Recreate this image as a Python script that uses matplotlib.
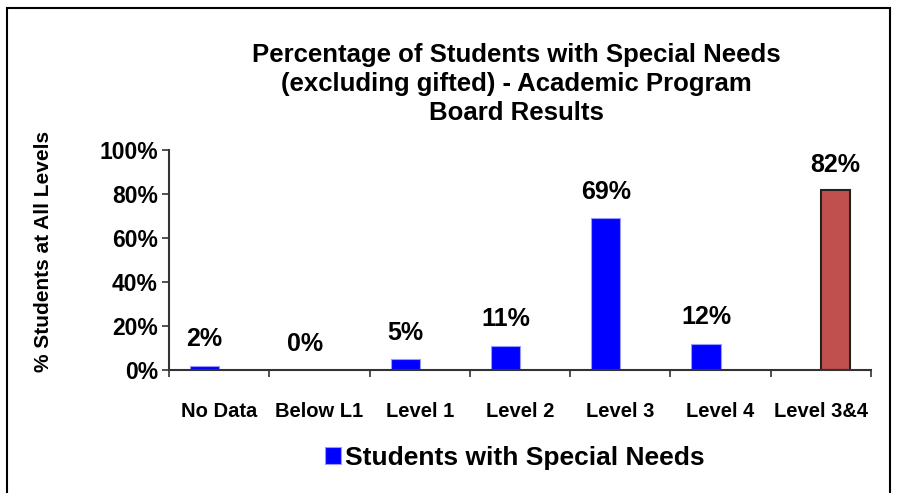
import numpy as np
import matplotlib.pyplot as plt
from matplotlib.patches import Rectangle
from matplotlib.ticker import FuncFormatter

plt.rcParams['font.family'] = ['Liberation Sans', 'DejaVu Sans']
plt.rcParams['font.weight'] = 'bold'

categories = ["No Data", "Below L1", "Level 1", "Level 2", "Level 3", "Level 4", "Level 3&4"]
special_needs = [2, 0, 5, 11, 69, 12, np.nan]
level34_total = [np.nan, np.nan, np.nan, np.nan, np.nan, np.nan, 82]
legend_label = "Students with Special Needs"
title = ("Percentage of Students with Special Needs\n"
         "(excluding gifted) - Academic Program\n"
         "Board Results")

fig = plt.figure(figsize=(8.98, 4.93), dpi=100)
ax = fig.add_axes([169/898, 1 - 370/493, 702/898, 220/493])

x = np.arange(len(categories))
w = 0.29

b1 = ax.bar(x - w/2, special_needs, w, color='#0000ff', edgecolor='#9999ff',
            linewidth=0.8, label=legend_label)
b2 = ax.bar(x + w/2, level34_total, w, color='#c0504d', edgecolor='#222222',
            linewidth=1.5)

for xi, v in zip(x - w/2, special_needs):
    if not np.isnan(v):
        ax.annotate(f"{v:.0f}%", (xi, v), xytext=(0, 19), textcoords='offset points',
                    ha='center', va='center', fontsize=18, fontweight='bold')
for xi, v in zip(x + w/2, level34_total):
    if not np.isnan(v):
        ax.annotate(f"{v:.0f}%", (xi, v), xytext=(0, 18), textcoords='offset points',
                    ha='center', va='center', fontsize=18, fontweight='bold')

ax.set_xlim(-0.5, len(categories) - 0.5)
ax.set_ylim(0, 100)
ax.set_yticks(np.arange(0, 101, 20))
ax.yaxis.set_major_formatter(FuncFormatter(lambda v, p: f"{v:.0f}%"))
ax.tick_params(axis='y', labelsize=16.5, length=5, width=1.2, pad=3, color='#333333')

ax.set_xticks(x)
ax.set_xticklabels(categories, fontsize=14.5, fontweight='bold')
ax.set_xticks(np.arange(-0.5, len(categories), 1), minor=True)
ax.tick_params(axis='x', which='major', length=0, pad=23)
ax.tick_params(axis='x', which='minor', length=5, width=1.2, color='#333333')

for s in ['top', 'right']:
    ax.spines[s].set_visible(False)
for s in ['left', 'bottom']:
    ax.spines[s].set_linewidth(1.5)
    ax.spines[s].set_color('#333333')

ax.set_ylabel("% Students at All Levels", fontsize=15, fontweight='bold')
ax.yaxis.set_label_coords((53 - 169) / 702, (370 - 251) / 220)

fig.text(516/898, 1 - 84/493, title, ha='center', va='center', fontsize=18.5,
         fontweight='bold', linespacing=1.26)

fig.legend(handles=[b1], loc='center', bbox_to_anchor=(515/898, 1 - 458/493),
           frameon=False, handlelength=0.6, handleheight=0.6,
           handletextpad=0.15, prop={'weight': 'bold', 'size': 19})

fig.patches.append(Rectangle((7/898, -0.05), 883/898, 1 - 8/493 + 0.05,
                             transform=fig.transFigure, fill=False,
                             edgecolor='black', linewidth=1.5))

fig.savefig("out.png", dpi=100)
